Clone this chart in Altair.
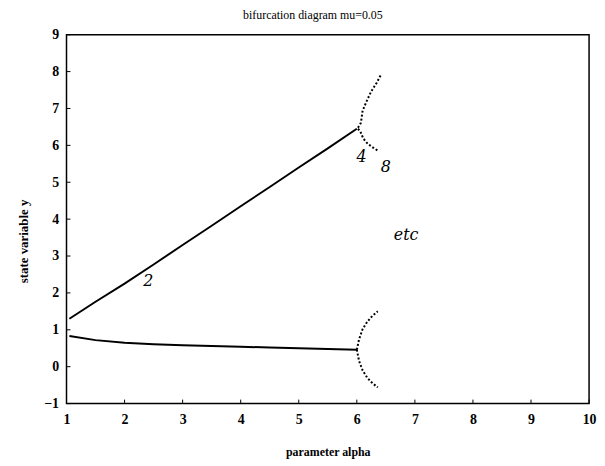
import altair as alt
import pandas as pd

# main branches
main_alpha = [1.05, 1.5, 2.0, 2.5, 3.0, 3.5, 4.0, 4.5, 5.0, 5.5, 6.0]
upper_y = [1.30, 1.76, 2.25, 2.77, 3.30, 3.82, 4.35, 4.87, 5.40, 5.92, 6.45]
lower_y = [0.83, 0.72, 0.65, 0.61, 0.58, 0.56, 0.54, 0.52, 0.50, 0.48, 0.46]

# period-doubling branches
b1_alpha = [6.02, 6.07, 6.10, 6.17, 6.25, 6.34, 6.42]
b1_y = [6.48, 6.61, 6.94, 7.20, 7.47, 7.69, 7.93]
b2_alpha = [6.02, 6.06, 6.11, 6.19, 6.28, 6.36]
b2_y = [6.45, 6.38, 6.19, 6.04, 5.94, 5.86]
b3_alpha = [6.00, 6.04, 6.10, 6.18, 6.27, 6.36]
b3_y = [0.46, 0.75, 1.02, 1.22, 1.38, 1.50]
b4_alpha = [6.00, 6.04, 6.10, 6.18, 6.27, 6.36]
b4_y = [0.46, 0.15, -0.10, -0.30, -0.45, -0.56]

# handwritten notes
note_text = ["2", "4", "8", "etc"]
note_alpha = [2.41, 6.08, 6.50, 6.85]
note_y = [2.31, 5.67, 5.40, 3.58]

x_ticks = [1, 2, 3, 4, 5, 6, 7, 8, 9, 10]
y_ticks = [-1, 0, 1, 2, 3, 4, 5, 6, 7, 8, 9]

W, H = 527, 372
FONT = "Liberation Serif"

rows = []
for name, ys in [("upper", upper_y), ("lower", lower_y)]:
    for i, (a, y) in enumerate(zip(main_alpha, ys)):
        rows.append({"branch": name, "alpha": a, "y": y, "o": i})
main_df = pd.DataFrame(rows)

rows = []
for name, (al, ys) in {"b1": (b1_alpha, b1_y), "b2": (b2_alpha, b2_y),
                       "b3": (b3_alpha, b3_y), "b4": (b4_alpha, b4_y)}.items():
    for i, (a, y) in enumerate(zip(al, ys)):
        rows.append({"branch": name, "alpha": a, "y": y, "o": i})
bif_df = pd.DataFrame(rows)

notes_df = pd.DataFrame({"t": note_text, "alpha": note_alpha, "y": note_y})

xs = alt.Scale(domain=[1, 10], nice=False, zero=False)
ys = alt.Scale(domain=[-1, 9], nice=False, zero=False)

xaxis = alt.Axis(values=x_ticks, format="d", title="parameter alpha", grid=False, ticks=False,
                 domain=False, labelFont=FONT, labelFontWeight="bold", labelFontSize=14,
                 labelColor="black", labelPadding=9, labelOverlap=False,
                 titleFont=FONT, titleFontWeight="bold",
                 titleFontSize=12, titleColor="black", titlePadding=20, labelFlush=False)
yaxis = alt.Axis(values=y_ticks, format="d", title="state variable y", grid=False, ticks=False,
                 domain=False, labelFont=FONT, labelFontWeight="bold", labelFontSize=14,
                 labelColor="black", labelPadding=8, labelOverlap=False,
                 titleFont=FONT, titleFontWeight="bold",
                 titleFontSize=13, titleColor="black", titlePadding=13, labelFlush=False,
                 titleY=208)

main = alt.Chart(main_df).mark_line(color="black", strokeWidth=2).encode(
    x=alt.X("alpha:Q", scale=xs, axis=xaxis),
    y=alt.Y("y:Q", scale=ys, axis=yaxis),
    detail="branch:N", order="o:Q")

bif = alt.Chart(bif_df).mark_line(color="black", strokeWidth=2, strokeDash=[2, 2]).encode(
    x=alt.X("alpha:Q", scale=xs, axis=xaxis), y=alt.Y("y:Q", scale=ys, axis=yaxis),
    detail="branch:N", order="o:Q")

notes = alt.Chart(notes_df).mark_text(font="DejaVu Serif", fontStyle="italic", fontSize=16,
                                      color="black").encode(
    x=alt.X("alpha:Q", scale=xs, axis=xaxis), y=alt.Y("y:Q", scale=ys, axis=yaxis), text="t:N")

xt = alt.Chart(pd.DataFrame({"alpha": x_ticks})).mark_rule(color="black", strokeWidth=1).encode(
    x=alt.X("alpha:Q", scale=xs, axis=xaxis), y=alt.value(H), y2=alt.value(H - 4))
yt = alt.Chart(pd.DataFrame({"y": y_ticks})).mark_rule(color="black", strokeWidth=1).encode(
    y=alt.Y("y:Q", scale=ys, axis=yaxis), x=alt.value(0), x2=alt.value(4))

chart = alt.layer(main, bif, notes, xt, yt).properties(
    width=W, height=H,
    autosize=alt.AutoSizeParams(type="none"),
    padding={"left": 59, "top": 25, "right": 8, "bottom": 58},
    title=alt.TitleParams("bifurcation diagram  mu=0.05", font=FONT, fontSize=12,
                          fontWeight="normal", color="black", dx=-15, offset=6),
).configure(background="white").configure_view(stroke="black", strokeWidth=1.5)

chart.save("out.html", embed_options={"renderer": "svg", "actions": False})
